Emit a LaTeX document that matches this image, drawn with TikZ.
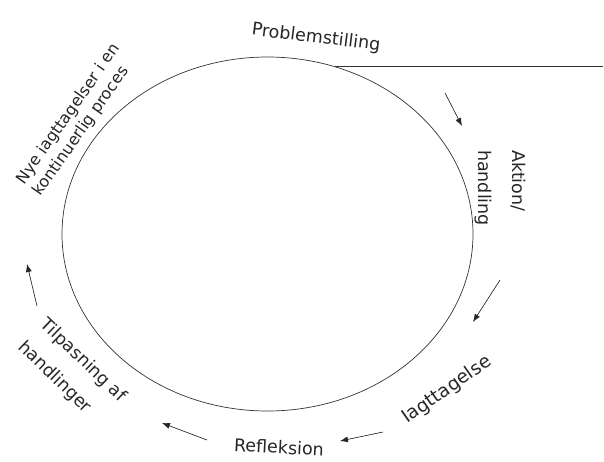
\documentclass[tikz,border=0pt]{standalone}
\usepackage{fontspec}
\setmainfont{DejaVu Sans}
\usetikzlibrary{arrows.meta,shapes.geometric}
\begin{document}
\begin{tikzpicture}[x=1pt,y=-1pt,
  lbl/.style={inner sep=0pt, font=\fontsize{17.5}{21}\selectfont, text=black!85},
  flow/.style={-{Latex[length=8pt,width=6pt]}, line width=0.6pt, draw=black!85, fill=black!85},
  cyc/.style={draw=black!80, line width=0.7pt, ellipse, minimum width=411pt, minimum height=354pt, inner sep=0pt},
  rule/.style={draw=black!80, line width=0.7pt}]
\useasboundingbox (0,0) rectangle (604,461);
\node[cyc] (cycle) at (267.5,234) {};
\coordinate (lineend) at (603,65);
\draw[rule] (cycle.68.8) -- (cycle.68.8 -| lineend);
% arrows
\coordinate (a1s) at (445,93);  \coordinate (a1e) at (462,126);
\coordinate (a2s) at (500,280); \coordinate (a2e) at (473,322);
\coordinate (a3s) at (383,432); \coordinate (a3e) at (340,441);
\coordinate (a4s) at (207,440); \coordinate (a4e) at (162,423);
\coordinate (a5s) at (37,306);  \coordinate (a5e) at (27,264);
\draw[flow] (a1s) -- (a1e);
\draw[flow] (a2s) -- (a2e);
\draw[flow] (a3s) -- (a3e);
\draw[flow] (a4s) -- (a4e);
\draw[flow] (a5s) -- (a5e);
% labels
\node[lbl, rotate=-7] (prob) at (316,38) {Problemstilling};
\node[lbl, rotate=-90, align=left, font=\fontsize{17.5}{34}\selectfont] (akt) at (500,188) {Aktion/\\handling};
\node[lbl, rotate=35, font=\fontsize{18.5}{22}\selectfont] (iagt) at (447,390) {Iagttagelse};
\node[lbl, rotate=-3] (refl) at (279,447) {Refleksion};
\node[lbl, rotate=-44, align=left, font=\fontsize{17.5}{32}\selectfont] (tilp) at (72,372) {Tilpasning af\\handlinger};
\node[lbl, rotate=55, align=left, font=\fontsize{16}{20}\selectfont] (nye) at (77,120) {Nye iagttagelser i en\\kontinuerlig proces};
\end{tikzpicture}
\end{document}
